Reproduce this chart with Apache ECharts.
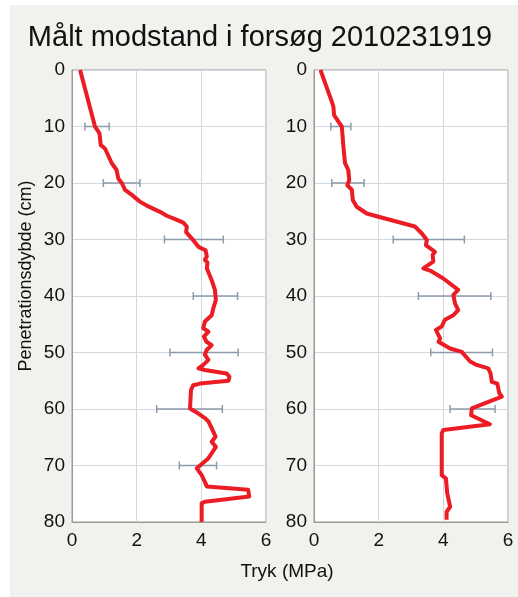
<!DOCTYPE html>
<html><head><meta charset="utf-8">
<script src="https://cdn.jsdelivr.net/npm/echarts@6/dist/echarts.min.js"></script>
<style>html,body{margin:0;padding:0;background:#fff}#c{width:518px;height:597px}</style>
</head><body><div id="c"></div>
<script>
var titleText = 'Målt modstand i forsøg 2010231919';
var xAxisName = 'Tryk (MPa)';
var yAxisName = 'Penetrationsdybde (cm)';

var leftDepth = [0,8.9,10,11.2,13.3,13.9,16.5,17.7,19.2,20,21.2,22.1,23.3,24,25.1,25.8,26.4,27,27.7,28.7,29.8,31.3,31.9,33,33.6,34.1,35.1,37.2,38.9,40.7,42.2,43.4,44.5,45.7,46.3,47.2,48.1,48.7,49.6,50.4,51.3,52.2,52.8,53.1,53.7,54.3,55.0,55.5,55.8,56.6,59.9,60.8,61.6,62.2,64.0,64.9,65.8,66.7,68.7,70.5,71.7,72.9,73.7,74.3,75.5,76.4,76.7,80];
var leftValue = [0.25,0.66,0.71,0.85,0.89,1.02,1.23,1.38,1.43,1.54,1.64,1.85,2.10,2.31,2.72,2.93,3.19,3.44,3.55,3.53,3.70,3.91,4.13,4.17,4.11,4.19,4.17,4.32,4.42,4.45,4.37,4.32,4.11,4.06,4.22,4.08,4.16,4.32,4.16,4.11,4.22,4.06,3.91,4.11,4.78,4.87,4.84,3.96,3.75,3.68,3.65,3.91,4.11,4.22,4.37,4.44,4.32,4.45,4.22,3.86,4.01,4.11,4.17,5.45,5.48,4.11,4.01,4.01];

var rightDepth = [0,5.6,6.5,8.0,9.1,10.0,13.6,16.5,17.7,19.5,20.4,21.2,23.0,24.2,25.4,26.2,27.0,27.7,28.9,30.1,31.0,32.2,32.7,33.9,35.1,35.5,36.9,38.9,39.8,41.3,42.5,43.4,44.2,45.4,46.0,47.5,48.1,49.3,49.9,51.6,52.2,52.8,53.7,55.2,55.5,57.2,57.8,59.9,61.1,62.7,63.7,64.3,71.7,72.3,74.9,77.3,78.2,79.6];
var rightValue = [0.2,0.55,0.60,0.62,0.75,0.86,0.91,0.96,1.06,1.09,1.03,1.17,1.20,1.32,1.63,2.14,2.66,3.12,3.33,3.49,3.46,3.74,3.67,3.69,3.38,3.59,4.0,4.46,4.31,4.36,4.46,4.31,4.05,3.95,3.77,3.90,3.85,4.21,4.57,4.83,5.03,5.39,5.46,5.50,5.67,5.73,5.81,4.88,4.86,5.44,4.0,3.95,3.95,4.08,4.12,4.21,4.10,4.10];

var leftErrDepth = [10,20,30,40,50,60,70];
var leftErrLow  = [0.40,0.97,2.86,3.75,3.03,2.62,3.32];
var leftErrHigh = [1.15,2.10,4.68,5.12,5.14,4.65,4.47];

var rightErrDepth = [10,20,30,40,50,60];
var rightErrLow  = [0.52,0.55,2.45,3.23,3.61,4.21];
var rightErrHigh = [1.14,1.55,4.65,5.47,5.52,5.60];

var xTicks = [0,2,4,6];
var yTicks = [0,10,20,30,40,50,60,70,80];

var FONT = '"Liberation Sans", Arial, sans-serif';

function pairs(d, v){ return d.map(function(x,i){ return [v[i], x]; }); }
function errData(d, lo, hi){ return d.map(function(x,i){ return [lo[i], hi[i], x]; }); }

function errRender(params, api){
  var lo = api.coord([api.value(0), api.value(2)]);
  var hi = api.coord([api.value(1), api.value(2)]);
  var h = 4;
  var st = {stroke:'#8d9bab', lineWidth:1.5};
  return {type:'group', children:[
    {type:'line', shape:{x1:lo[0],y1:lo[1],x2:hi[0],y2:hi[1]}, style:st},
    {type:'line', shape:{x1:lo[0],y1:lo[1]-h,x2:lo[0],y2:lo[1]+h}, style:st},
    {type:'line', shape:{x1:hi[0],y1:hi[1]-h,x2:hi[0],y2:hi[1]+h}, style:st}
  ]};
}

function xAx(idx){
  return {type:'value', gridIndex:idx, min:xTicks[0], max:xTicks[xTicks.length-1], interval:2,
    axisLine:{show:true, onZero:false, lineStyle:{color:'#9a9a9a'}},
    axisTick:{show:false},
    axisLabel:{color:'#111', fontSize:19, fontFamily:FONT, margin:9},
    splitLine:{show:true, lineStyle:{color:'#d3d8df', width:1}}};
}
function yAx(idx){
  return {type:'value', gridIndex:idx, inverse:true, min:yTicks[0], max:yTicks[yTicks.length-1], interval:10,
    axisLine:{show:true, onZero:false, lineStyle:{color:'#9a9a9a'}},
    axisTick:{show:false},
    axisLabel:{color:'#111', fontSize:19, fontFamily:FONT, margin:7},
    splitLine:{show:true, lineStyle:{color:'#d3d8df', width:1}}};
}

var chart = echarts.init(document.getElementById('c'), null, {renderer:'canvas'});
chart.setOption({
  backgroundColor:'#ffffff',
  animation:false,
  graphic:[
    {type:'rect', z:-10, shape:{x:10,y:5,width:508,height:592}, style:{fill:'#f1f1ee'}},
    {type:'text', z:10, x:26, y:276, rotation:Math.PI/2,
     style:{text:yAxisName, font:'18px '+FONT, fill:'#111', textAlign:'center', textVerticalAlign:'middle'}},
    {type:'text', z:10, x:287, y:572,
     style:{text:xAxisName, font:'19px '+FONT, fill:'#111', textAlign:'center', textVerticalAlign:'middle'}},
    {type:'text', z:10, x:260, y:38,
     style:{text:titleText, font:'29px '+FONT, fill:'#111', textAlign:'center', textVerticalAlign:'middle'}}
  ],
  grid:[
    {left:72, top:70, width:194, height:452, show:true, backgroundColor:'#ffffff', borderColor:'#9a9a9a', borderWidth:1},
    {left:314, top:70, width:194, height:452, show:true, backgroundColor:'#ffffff', borderColor:'#9a9a9a', borderWidth:1}
  ],
  xAxis:[xAx(0), xAx(1)],
  yAxis:[yAx(0), yAx(1)],
  series:[
    {type:'custom', xAxisIndex:0, yAxisIndex:0, renderItem:errRender, data:errData(leftErrDepth,leftErrLow,leftErrHigh), z:2},
    {type:'custom', xAxisIndex:1, yAxisIndex:1, renderItem:errRender, data:errData(rightErrDepth,rightErrLow,rightErrHigh), z:2},
    {type:'line', xAxisIndex:0, yAxisIndex:0, data:pairs(leftDepth,leftValue), showSymbol:false, symbol:'none',
     lineStyle:{color:'#ec1c24', width:4, join:'round'}, z:5},
    {type:'line', xAxisIndex:1, yAxisIndex:1, data:pairs(rightDepth,rightValue), showSymbol:false, symbol:'none',
     lineStyle:{color:'#ec1c24', width:4, join:'round'}, z:5}
  ]
});
</script>
</body></html>
